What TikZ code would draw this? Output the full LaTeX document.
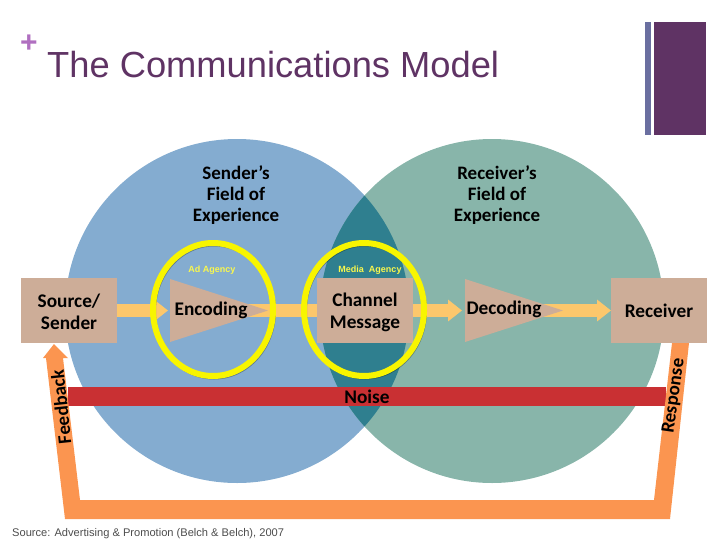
\documentclass[tikz,border=0pt]{standalone}
\usepackage{fontspec}
\setmainfont{Carlito}
\newfontfamily\arialfont{Liberation Sans}
\usetikzlibrary{arrows.meta,shapes.geometric}
\pgfdeclarelayer{venn}
\pgfdeclarelayer{flow}
\pgfsetlayers{venn,flow,main}
\definecolor{senderblue}{HTML}{84ACD0}
\definecolor{receivergreen}{HTML}{88B5AA}
\definecolor{lensteal}{HTML}{2F7F8F}
\definecolor{boxtan}{HTML}{CDAD98}
\definecolor{flowamber}{HTML}{FCC76C}
\definecolor{looporange}{HTML}{FB9550}
\definecolor{noisered}{HTML}{C93033}
\definecolor{ringyellow}{HTML}{F8F500}
\definecolor{titlepurple}{HTML}{5F3364}
\definecolor{plusviolet}{HTML}{B06FC0}
\definecolor{barblue}{HTML}{6A6FA0}
\newcommand{\boxstrut}{\rule{0pt}{17pt}}
\tikzset{
    fieldcircle/.style={circle,minimum size=344pt,inner sep=0pt,outer sep=0pt},
    tanbox/.style={fill=boxtan,minimum width=96pt,minimum height=65pt,inner sep=0pt,outer sep=0pt,align=center},
    wedgebox/.style={isosceles triangle,isosceles triangle stretches,minimum width=63pt,minimum height=98pt,fill=boxtan,inner sep=0pt,outer sep=0pt,anchor=lower side},
    flowtext/.style={font=\bfseries\fontsize{19.3}{22}\selectfont,align=center,text=black},
    fieldtext/.style={font=\bfseries\fontsize{19}{21}\selectfont,align=center,text=black},
    slanttext/.style={font=\bfseries\fontsize{19}{22}\selectfont,text=black,inner sep=0pt},
    agencytext/.style={font=\arialfont\bfseries\fontsize{9}{10}\selectfont,text=ringyellow!70!white},
    flowarrow/.style={draw=flowamber,line width=13pt,-{Triangle[length=14pt,width=21pt]}},
    ring/.style={ellipse,draw=ringyellow,line width=6pt,minimum width=120pt,minimum height=133pt,inner sep=0pt},
    ringshadow/.style={ellipse,draw=black,opacity=.3,line width=4pt,minimum width=120pt,minimum height=133pt,inner sep=0pt}
}
\begin{document}
\begin{tikzpicture}[x=1pt,y=-1pt]
    \useasboundingbox (0,0) rectangle (728,546);

    % title and corner bars
    \node[font=\arialfont\bfseries\fontsize{30}{30}\selectfont,text=plusviolet] (plus) at (29,44) {+};
    \node[font=\arialfont\fontsize{36.3}{40}\selectfont,text=titlepurple,anchor=base west,inner sep=0pt] (title) at (47,77) {The Communications Model};
    \fill[barblue] (645,22) rectangle (651,135);
    \fill[titlepurple] (654,22) rectangle (706,135);

    % the two fields
    \begin{pgfonlayer}{venn}
        \node[fieldcircle,fill=senderblue] (senderfield) at (237,311) {};
        \node[fieldcircle,fill=receivergreen] (receiverfield) at (492,311) {};
        \begin{scope}
            \clip (237,311) circle (172);
            \fill[lensteal] (492,311) circle (172);
        \end{scope}
        \fill[noisered] (68,387) rectangle (666,406);
        \fill[looporange] (54,344) -- (68,358) -- (63,358) -- (80,500) -- (654,500) -- (672,343) -- (689,343) -- (670,519) -- (65,519) -- (46,358) -- (43,358) -- cycle;
    \end{pgfonlayer}

    \node[fieldtext] (senderlabel) at (236,195) {Sender’s\\Field of\\Experience};
    \node[fieldtext] (receiverlabel) at (497,195) {Receiver’s\\Field of\\Experience};

    \node[tanbox,flowtext] (source) at (69,310.5) {\boxstrut Source/\\Sender};
    \node[wedgebox] (encoding) at (170,310.5) {};
    \node[flowtext] (encodinglabel) at (211,310) {Encoding};
    \node[tanbox,flowtext] (channel) at (365,310.5) {\boxstrut Channel\\Message};
    \node[wedgebox] (decoding) at (465,310.5) {};
    \node[flowtext] (decodinglabel) at (504,309) {Decoding};
    \node[tanbox,flowtext] (receiver) at (659,310.5) {Receiver};

    \begin{pgfonlayer}{flow}
        \draw[flowarrow] (source) -- ([xshift=-2pt]encoding.lower side);
        \draw[draw=flowamber,line width=13pt] (encoding.center) -- (channel);
        \draw[flowarrow] (channel) -- ([xshift=-3pt]decoding.lower side);
        \draw[flowarrow] (decoding.center) -- (receiver);
    \end{pgfonlayer}

    % rings around the two agencies
    \node[ringshadow] (adshadow) at (214,311) {};
    \node[ringshadow] (mediashadow) at (365,311) {};
    \node[ring] (adring) at (213,309.5) {};
    \node[ring] (mediaring) at (364,309.5) {};
    \node[agencytext] (adagency) at (212,270) {Ad Agency};
    \node[agencytext] (mediaagency) at (370,270) {Media\ \ Agency};

    \node[flowtext] (noise) at (367,397) {Noise};
    \node[slanttext,rotate=96] (feedback) at (61,407) {Feedback};
    \node[slanttext,rotate=82] (response) at (674,396) {Response};

    \node[font=\arialfont\fontsize{11.1}{13}\selectfont,text=black!70,anchor=base west,inner sep=0pt] (sourcenote) at (12,536) {Source: Advertising \& Promotion (Belch \& Belch), 2007};
\end{tikzpicture}
\end{document}
